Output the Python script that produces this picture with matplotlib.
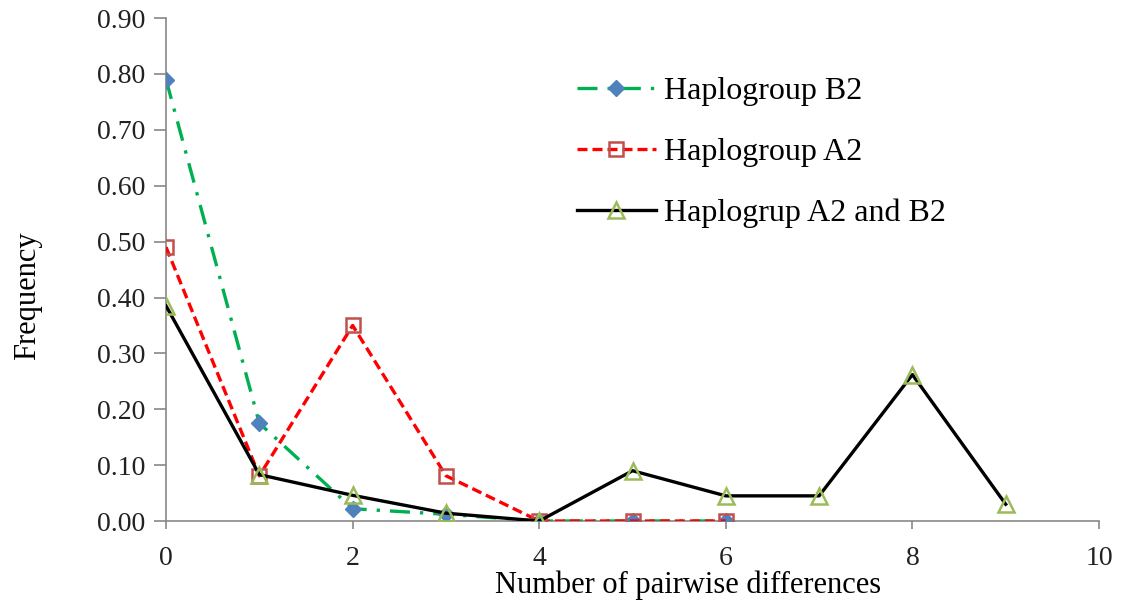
import numpy as np
from matplotlib import pyplot as plt

plt.rcParams['font.family'] = ['Liberation Serif', 'DejaVu Serif']

x = np.arange(10)
b2 = [0.79, 0.175, 0.022, 0.012, 0.0, 0.0, 0.0]
a2 = [0.49, 0.081, 0.35, 0.081, 0.0, 0.0, 0.0]
a2b2 = [0.385, 0.083, 0.046, 0.014, 0.0, 0.09, 0.045, 0.045, 0.262, 0.03]

fig = plt.figure(figsize=(11.22, 6.04), dpi=100)
ax = fig.add_axes([0.148, 0.1374, 0.8315, 0.8326])

ax.plot(x[:len(b2)], b2, color='#00B050', linestyle=(0, (6, 3, 1, 3)), linewidth=2.4,
        marker='D', markersize=8.5, markerfacecolor='#4F81BD', markeredgecolor='#4F81BD',
        label='Haplogroup B2', zorder=3)
ax.plot(x[:len(a2)], a2, color='#FF0000', linestyle=(0, (3, 1.5)), linewidth=2.4,
        marker='s', markersize=10, markerfacecolor='none', markeredgecolor='#C0504D',
        markeredgewidth=1.8, label='Haplogroup A2', zorder=4)
ax.plot(x, a2b2, color='black', linestyle='-', linewidth=2.4,
        marker='^', markersize=11, markerfacecolor='none', markeredgecolor='#9BBB59',
        markeredgewidth=1.8, label='Haplogrup A2 and B2', zorder=5)

ax.set_xlim(0, 10)
ax.set_ylim(0, 0.9)
ax.set_xticks(np.arange(0, 11, 2))
ax.set_yticks(np.arange(0, 0.91, 0.1))
ax.set_yticklabels(['%.2f' % v for v in np.arange(0, 0.91, 0.1)])

for s in ['top', 'right']:
    ax.spines[s].set_visible(False)
for s in ['left', 'bottom']:
    ax.spines[s].set_color('#888888')
    ax.spines[s].set_linewidth(1.2)
ax.tick_params(axis='y', direction='out', length=9, color='#888888', width=1.2,
               labelsize=20, pad=6)
ax.tick_params(axis='x', direction='out', length=6, color='#888888', width=1.2,
               labelsize=20, pad=12)
for t in ax.get_xticklabels() + ax.get_yticklabels():
    t.set_color('#222222')

ax.set_xlabel('Number of pairwise differences', fontsize=22)
ax.xaxis.set_label_coords(0.56, -0.098)
ax.set_ylabel('Frequency', fontsize=22)
ax.yaxis.set_label_coords(-0.133, 0.449)

ax.legend(loc='upper left', bbox_to_anchor=(0.41, 0.94), frameon=False,
          fontsize=23, handlelength=2.45, handletextpad=0.25, labelspacing=0.98)

plt.savefig('out.png', dpi=100)
